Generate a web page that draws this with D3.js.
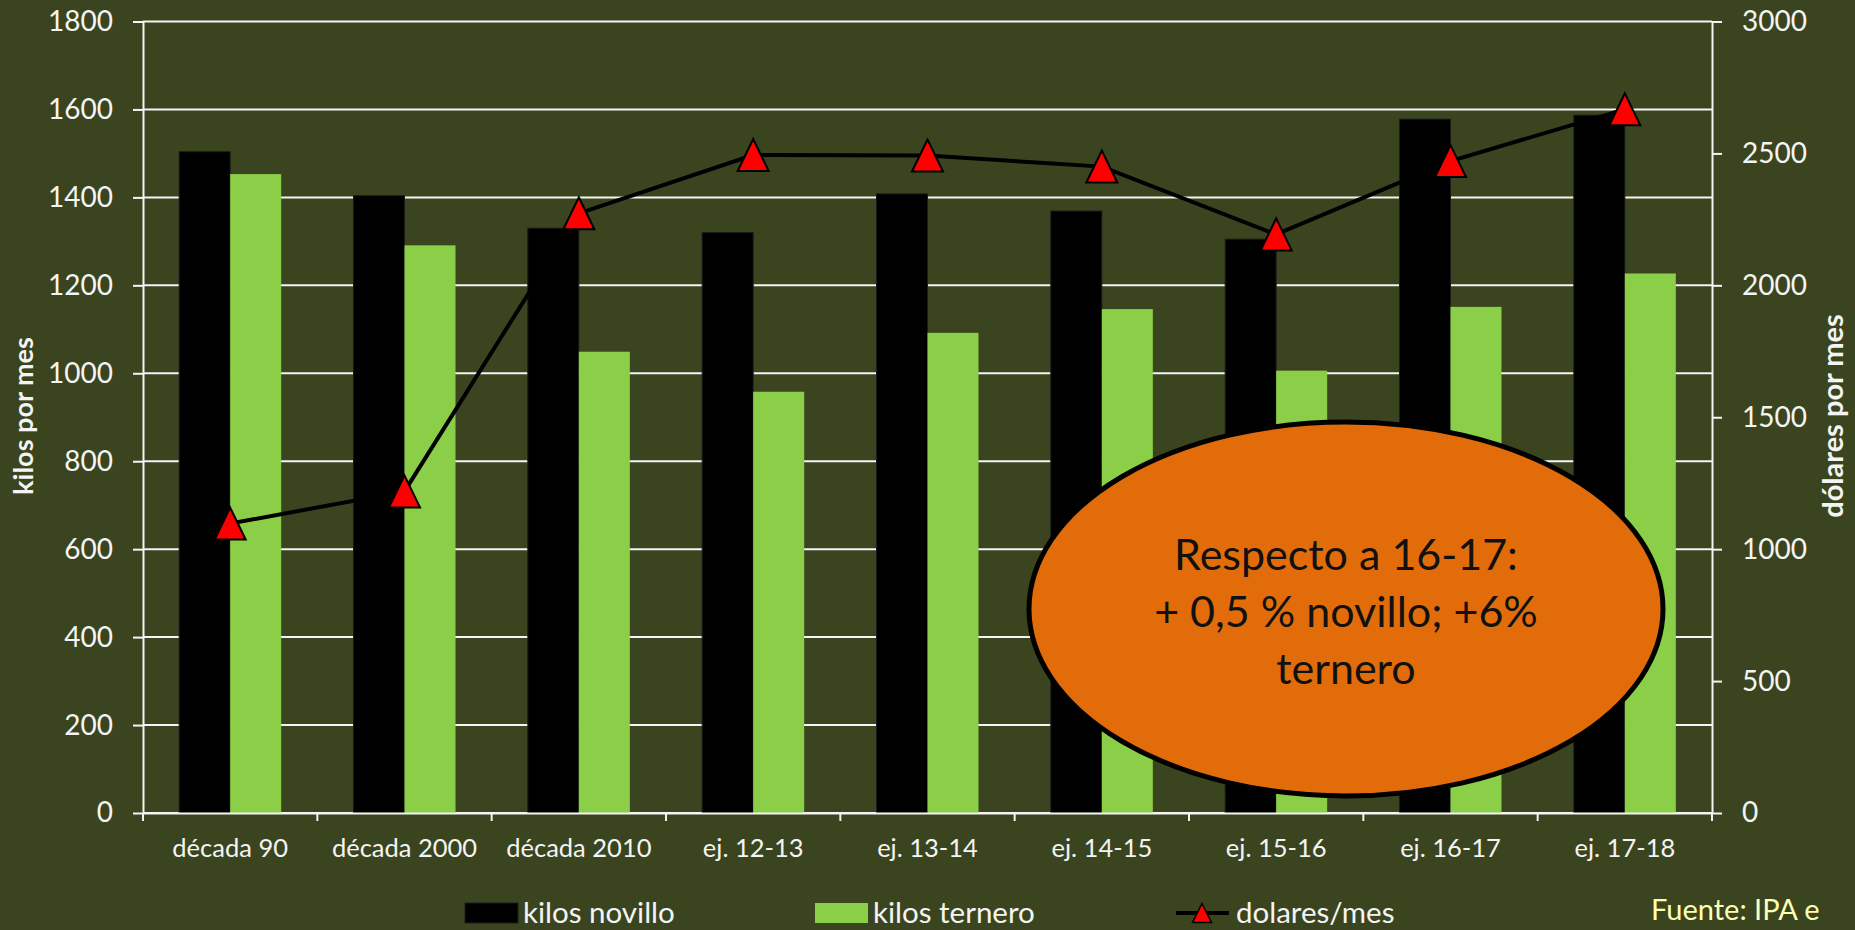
<!DOCTYPE html>
<html>
<head>
<meta charset="utf-8">
<script src="https://cdn.jsdelivr.net/npm/d3@7/dist/d3.min.js"></script>
<style>
  html, body { margin: 0; padding: 0; background: #3A451F; overflow: hidden; }
  svg { display: block; }
  text { font-family: Lato, "Open Sans", sans-serif; }
</style>
</head>
<body>
<svg id="chart" width="1855" height="930"></svg>
<script>
const categories = ["década 90", "década 2000", "década 2010", "ej. 12-13", "ej. 13-14", "ej. 14-15", "ej. 15-16", "ej. 16-17", "ej. 17-18"];
const kilosNovillo = [1504, 1404, 1330, 1320, 1408, 1369, 1305, 1578, 1587];
const kilosTernero = [1453, 1291, 1049, 958, 1092, 1146, 1006, 1151, 1227];
const dolaresMes = [1097, 1219, 2273, 2494, 2492, 2450, 2193, 2471, 2667];
const leftTicks = [0, 200, 400, 600, 800, 1000, 1200, 1400, 1600, 1800];
const rightTicks = [0, 500, 1000, 1500, 2000, 2500, 3000];
const seriesNames = ["kilos novillo", "kilos ternero", "dolares/mes"];
const noteLines = ["Respecto a 16-17:", "+ 0,5 % novillo; +6%", "ternero"];
const sourceText = "Fuente: IPA e";

const BG = "#3A451F", GREEN = "#8BCE47", WHITE = "#F4F4F4";
const svg = d3.select("#chart");
svg.append("rect").attr("width", 1855).attr("height", 930).attr("fill", BG);

const L = 143, R = 1712, T = 21.5, B = 813;
const x = d3.scaleBand().domain(categories).range([L, R]).paddingInner(0).paddingOuter(0);
const x1 = d3.scaleBand().domain(["novillo", "ternero"]).range([0, x.bandwidth()]).paddingInner(0).paddingOuter(0.709);
const yL = d3.scaleLinear().domain([0, 1800]).range([B, T]);
const yR = d3.scaleLinear().domain([0, 3000]).range([B, T]);

// gridlines
svg.append("g").selectAll("line").data(leftTicks).join("line")
  .attr("x1", L).attr("x2", R).attr("y1", d => yL(d)).attr("y2", d => yL(d))
  .attr("stroke", WHITE).attr("stroke-width", 2);

// bars
const g = svg.append("g");
g.selectAll("rect.nov").data(categories).join("rect")
  .attr("x", (d) => x(d) + x1("novillo"))
  .attr("y", (d, i) => yL(kilosNovillo[i]))
  .attr("width", x1.bandwidth())
  .attr("height", (d, i) => yL(0) - yL(kilosNovillo[i]))
  .attr("fill", "#000").attr("stroke", "#1c1c1c").attr("stroke-width", 1);
g.selectAll("rect.ter").data(categories).join("rect")
  .attr("x", (d) => x(d) + x1("ternero"))
  .attr("y", (d, i) => yL(kilosTernero[i]))
  .attr("width", x1.bandwidth())
  .attr("height", (d, i) => yL(0) - yL(kilosTernero[i]))
  .attr("fill", GREEN);

// axes
const fmt = d3.format("d");
const axL = svg.append("g").attr("transform", `translate(${L},0)`)
  .call(d3.axisLeft(yL).tickValues(leftTicks).tickFormat(fmt).tickSize(10).tickSizeOuter(0).tickPadding(20));
const axR = svg.append("g").attr("transform", `translate(${R},0)`)
  .call(d3.axisRight(yR).tickValues(rightTicks).tickFormat(fmt).tickSize(10).tickSizeOuter(0).tickPadding(20));
const axB = svg.append("g").attr("transform", `translate(0,${B})`)
  .call(d3.axisBottom(x).tickSize(0).tickSizeOuter(0).tickPadding(26));
[axL, axR, axB].forEach(a => {
  a.selectAll("path.domain").attr("stroke", WHITE).attr("stroke-width", 2);
  a.selectAll(".tick line").attr("stroke", WHITE).attr("stroke-width", 2);
  a.selectAll("text").attr("fill", WHITE).attr("font-family", "Lato, sans-serif");
});
axL.selectAll("text").attr("font-size", 28);
axR.selectAll("text").attr("font-size", 28);
axB.selectAll("text").attr("font-size", 25.5).attr("dy", "0.71em");
// boundary ticks on category axis
const bounds = categories.map(c => x(c)).concat([x.range()[1]]);
svg.append("g").selectAll("line").data(bounds).join("line")
  .attr("x1", d => d).attr("x2", d => d).attr("y1", B).attr("y2", B + 8)
  .attr("stroke", WHITE).attr("stroke-width", 2);

// line series
const cx = d => x(d) + x.bandwidth() / 2;
const lineGen = d3.line().x((d, i) => cx(categories[i])).y(d => yR(d));
svg.append("path").datum(dolaresMes).attr("d", lineGen)
  .attr("fill", "none").attr("stroke", "#000").attr("stroke-width", 4);
const tri = (w, h) => `M0,${-h/2}L${w/2},${h/2}L${-w/2},${h/2}Z`;
svg.append("g").selectAll("path").data(dolaresMes).join("path")
  .attr("transform", (d, i) => `translate(${cx(categories[i])},${yR(d)})`)
  .attr("d", tri(31, 32))
  .attr("fill", "#FF0000").attr("stroke", "#000").attr("stroke-width", 2).attr("stroke-linejoin", "miter");

// axis titles
svg.append("text").attr("transform", "translate(33,416) rotate(-90)")
  .attr("text-anchor", "middle").attr("font-size", 27).attr("font-weight", "bold")
  .attr("fill", WHITE).text("kilos por mes");
svg.append("text").attr("transform", "translate(1843,416) rotate(-90)")
  .attr("text-anchor", "middle").attr("font-size", 29).attr("font-weight", "bold")
  .attr("fill", WHITE).text("dólares por mes");

// legend
const lg = svg.append("g");
lg.append("rect").attr("x", 465).attr("y", 903).attr("width", 53).attr("height", 20)
  .attr("fill", "#000").attr("stroke", "#1c1c1c");
lg.append("text").attr("x", 523).attr("y", 923).attr("font-size", 29.5).attr("fill", WHITE).text(seriesNames[0]);
lg.append("rect").attr("x", 815).attr("y", 903).attr("width", 53).attr("height", 20)
  .attr("fill", GREEN);
lg.append("text").attr("x", 873).attr("y", 923).attr("font-size", 29.5).attr("fill", WHITE).text(seriesNames[1]);
lg.append("line").attr("x1", 1176).attr("x2", 1229).attr("y1", 913).attr("y2", 913)
  .attr("stroke", "#000").attr("stroke-width", 4);
lg.append("path").attr("transform", "translate(1202,913)").attr("d", tri(19, 19))
  .attr("fill", "#FF0000").attr("stroke", "#000").attr("stroke-width", 1.5);
lg.append("text").attr("x", 1236).attr("y", 923).attr("font-size", 29.5).attr("fill", WHITE).text(seriesNames[2]);

// source
svg.append("text").attr("x", 1651).attr("y", 920).attr("font-size", 29)
  .attr("font-family", "'Comic Sans MS', 'DejaVu Sans', sans-serif")
  .attr("fill", "#FFFFB3").text(sourceText);

// annotation ellipse
svg.append("ellipse").attr("cx", 1346).attr("cy", 609).attr("rx", 317).attr("ry", 187)
  .attr("fill", "#E36C0A").attr("stroke", "#000").attr("stroke-width", 5);
svg.append("g").selectAll("text").data(noteLines).join("text")
  .attr("x", 1346).attr("y", (d, i) => 570 + i * 57)
  .attr("text-anchor", "middle").attr("font-size", 43).attr("fill", "#111")
  .text(d => d);
</script>
</body>
</html>
